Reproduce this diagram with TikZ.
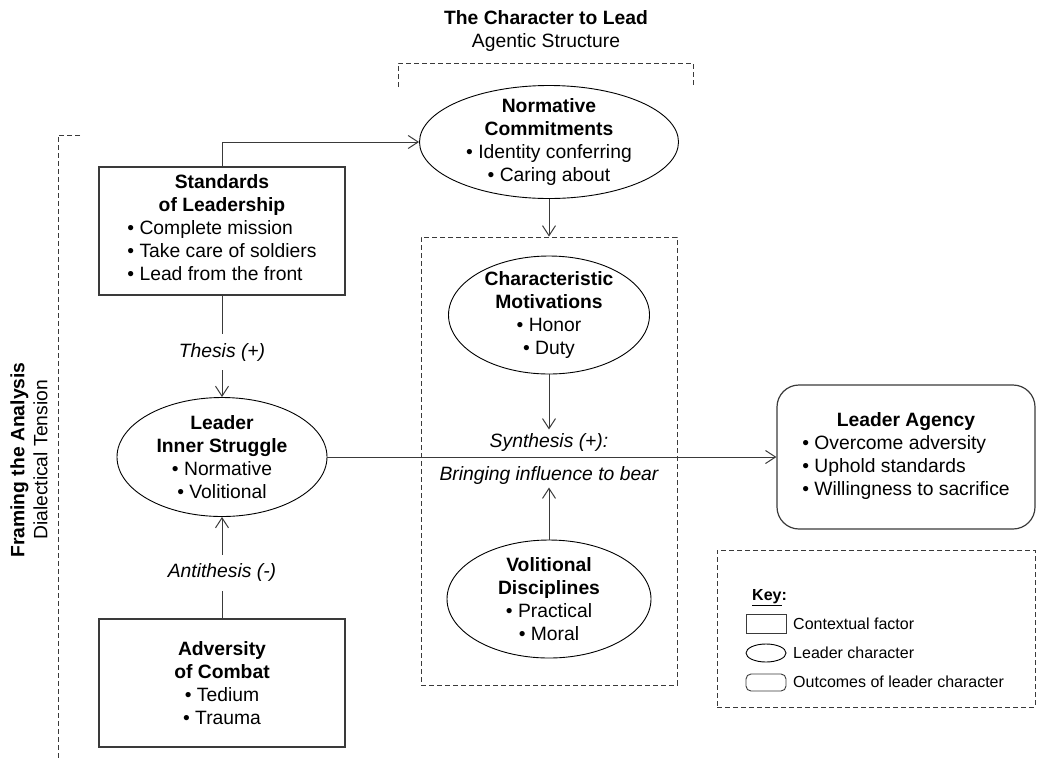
\documentclass[tikz,border=0pt]{standalone}
\usepackage{fontspec}
\setmainfont{Liberation Sans}
\usetikzlibrary{shapes.geometric,arrows.meta}
\definecolor{linegray}{HTML}{3A3A3A}
\tikzset{
  every node/.style={font=\fontsize{19.3}{23}\selectfont},
  ctx/.style={draw=linegray, line width=1.4pt, rectangle, minimum width=246pt, minimum height=128pt, inner sep=0pt, align=center},
  chr/.style={draw, line width=0.9pt, ellipse, inner xsep=0pt, inner ysep=-25pt, align=center},
  outc/.style={draw=linegray, line width=1.2pt, rectangle, rounded corners=22pt, inner sep=0pt, align=center},
  dashbox/.style={draw=linegray, dashed, dash pattern=on 5pt off 3pt, line width=0.9pt, rectangle, inner sep=0pt},
  dashline/.style={draw=linegray, dashed, dash pattern=on 5pt off 3pt, line width=0.9pt},
  arr/.style={draw=linegray, line width=1pt, -{Straight Barb[length=10pt,width=13pt]}},
  lbl/.style={fill=white, inner xsep=2pt, inner ysep=9pt, font=\fontsize{19.3}{23}\selectfont\itshape},
  itl/.style={font=\fontsize{19.3}{23}\selectfont\itshape},
  keytxt/.style={font=\fontsize{16}{19}\selectfont, inner sep=0pt}
}
\begin{document}
\begin{tikzpicture}[x=1pt,y=-1pt]
\useasboundingbox (0,0) rectangle (1040,761);
% headings
\node[align=center] (ttl) at (546,31) {\textbf{The Character to Lead}\\Agentic Structure};
\node[align=center, rotate=90] (frm) at (29,460) {\textbf{Framing the Analysis}\\Dialectical Tension};
\draw[dashline] (398,87) -- (398,63) -- (693,63) -- (693,87);
\draw[dashline] (80,135) -- (58,135) -- (58,758);
% agentic structure
\node[dashbox, minimum width=256pt, minimum height=448pt] (cbox) at (549,461) {};
\node[chr, minimum width=259pt, minimum height=113pt] (nc) at (549,142) {\textbf{Normative}\\\textbf{Commitments}\\• Identity conferring\\• Caring about};
\node[chr, minimum width=201pt, minimum height=118pt] (cm) at (549,315) {\textbf{Characteristic}\\\textbf{Motivations}\\• Honor\\• Duty};
\node[chr, minimum width=204pt, minimum height=118pt] (vd) at (549,599) {\textbf{Volitional}\\\textbf{Disciplines}\\• Practical\\• Moral};
\node[itl] (syn) at (549,442) {Synthesis (+):};
\node[itl] (brg) at (549,475) {Bringing influence to bear};
% dialectical tension
\node[ctx] (std) at (222,231) {\textbf{Standards}\\\textbf{of Leadership}\\\begin{tabular}[t]{@{}l@{}}• Complete mission\\• Take care of soldiers\\• Lead from the front\end{tabular}};
\node[chr, minimum width=210pt, minimum height=119pt] (lis) at (222,457) {\textbf{Leader}\\\textbf{Inner Struggle}\\• Normative\\• Volitional};
\node[ctx] (adv) at (222,683) {\textbf{Adversity}\\\textbf{of Combat}\\• Tedium\\• Trauma};
\node[outc, minimum width=258pt, minimum height=144pt] (la) at (906,457) {\textbf{Leader Agency}\\\begin{tabular}[t]{@{}l@{}}• Overcome adversity\\• Uphold standards\\• Willingness to sacrifice\end{tabular}};
% connectors
\draw[arr] (std.north) |- (nc.west);
\draw[arr] (nc) -- (cbox.north);
\draw[arr] (cm) -- (syn);
\draw[arr] (vd) -- (brg);
\draw[arr] (lis) -- (la);
\draw[arr] (std) -- node[lbl, pos=0.56] (th) {Thesis (+)} (lis);
\draw[arr] (adv) -- node[lbl, pos=0.45] (ant) {Antithesis (-)} (lis);
% key
\node[dashbox, minimum width=318pt, minimum height=157pt] (key) at (876,628.5) {};
\node[keytxt, anchor=west] (keyt) at (752,598) {\textbf{\underline{Key}:}};
\node[ctx, line width=0.9pt, minimum width=40pt, minimum height=19pt] (kc) at (766,623.5) {};
\node[chr, minimum width=40pt, minimum height=18pt] (kl) at (766,653) {};
\node[outc, line width=0.9pt, rounded corners=5pt, minimum width=40pt, minimum height=17pt] (ko) at (766,682.5) {};
\node[keytxt, anchor=west] (kct) at (793,624) {Contextual factor};
\node[keytxt, anchor=west] (klt) at (793,653) {Leader character};
\node[keytxt, anchor=west] (kot) at (793,682) {Outcomes of leader character};
\end{tikzpicture}
\end{document}
